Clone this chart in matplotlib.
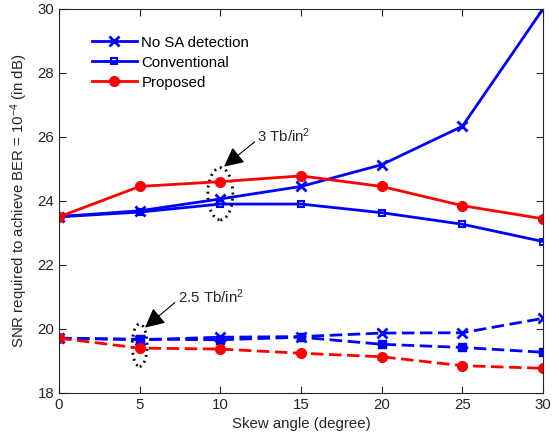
import matplotlib
matplotlib.use("Agg")
import matplotlib.pyplot as plt
from matplotlib.patches import Ellipse

plt.rcParams['font.family'] = ['Liberation Sans', 'DejaVu Sans']
plt.rcParams['mathtext.fontset'] = 'custom'
plt.rcParams['mathtext.rm'] = 'Liberation Sans'
plt.rcParams['mathtext.it'] = 'Liberation Sans:italic'

# data
skew = [0, 5, 10, 15, 20, 25, 30]

# 3 Tb/in^2 (solid)
nosa_3 = [23.51, 23.69, 24.06, 24.45, 25.13, 26.33, 30.0]
conv_3 = [23.50, 23.65, 23.90, 23.90, 23.63, 23.27, 22.73]
prop_3 = [23.50, 24.45, 24.60, 24.78, 24.45, 23.85, 23.44]

# 2.5 Tb/in^2 (dashed)
nosa_25 = [19.71, 19.66, 19.74, 19.76, 19.87, 19.88, 20.33]
conv_25 = [19.71, 19.68, 19.66, 19.74, 19.52, 19.42, 19.27]
prop_25 = [19.71, 19.40, 19.37, 19.24, 19.13, 18.85, 18.77]

blue = '#0000FF'
red = '#FF0000'
fs = 10.8

fig = plt.figure(figsize=(5.59, 4.40), dpi=100)
ax = fig.add_axes([0.1055, 0.107, 0.866, 0.873])

lw = 2.0
ax.plot(skew, nosa_3, '-x', color=blue, lw=lw, ms=7, mew=2, label='No SA detection')
ax.plot(skew, conv_3, '-s', color=blue, lw=lw, ms=5, mew=1.5, mfc='none', label='Conventional')
ax.plot(skew, prop_3, '-o', color=red, lw=lw, ms=7, label='Proposed')

dash = (0, (4.5, 2.0))
ax.plot(skew, nosa_25, ls=dash, marker='x', color=blue, lw=lw, ms=7, mew=2)
ax.plot(skew, conv_25, ls=dash, marker='s', color=blue, lw=lw, ms=5.5)
ax.plot(skew, prop_25, ls=dash, marker='o', color=red, lw=lw, ms=7)

# dotted ellipses marking the densities
dots = (0, (0.7, 1.5))
ax.add_patch(Ellipse((10, 24.22), 1.55, 1.63, fill=False, ls=dots, lw=2,
                     color='black', capstyle='butt'))
ax.add_patch(Ellipse((5, 19.49), 0.93, 1.33, fill=False, ls=dots, lw=2,
                     color='black', capstyle='butt'))

arrow = dict(arrowstyle='-|>,head_length=0.6,head_width=0.3', color='black',
             lw=0.8, mutation_scale=20, shrinkA=0, shrinkB=0, relpos=(0, 0.3))
ax.annotate('3 Tb/in$^2$', xy=(10.23, 25.07), xytext=(12.3, 26.03),
            fontsize=fs, va='center', ha='left', color='#262626', arrowprops=arrow)
ax.annotate('2.5 Tb/in$^2$', xy=(5.33, 20.04), xytext=(7.35, 21.01),
            fontsize=fs, va='center', ha='left', color='#262626', arrowprops=arrow)

ax.set_xlim(0, 30)
ax.set_ylim(18, 30)
ax.set_xticks(skew)
ax.set_yticks([18, 20, 22, 24, 26, 28, 30])
ax.tick_params(direction='in', top=True, right=True, length=5, width=0.8,
               labelsize=fs, colors='#262626', labelcolor='#262626')
for s in ax.spines.values():
    s.set_linewidth(0.8)
    s.set_color('#262626')

ax.set_xlabel('Skew angle (degree)', fontsize=fs, color='#262626', labelpad=4)
ax.set_ylabel('SNR required to achieve BER = 10$^{-4}$ (in dB)', fontsize=fs,
              color='#262626', labelpad=5)

ax.legend(loc='upper left', bbox_to_anchor=(0.04, 0.965), frameon=False,
          fontsize=fs, handlelength=3.0, handletextpad=0.3, labelspacing=0.4)

fig.savefig('out.png', dpi=100)
